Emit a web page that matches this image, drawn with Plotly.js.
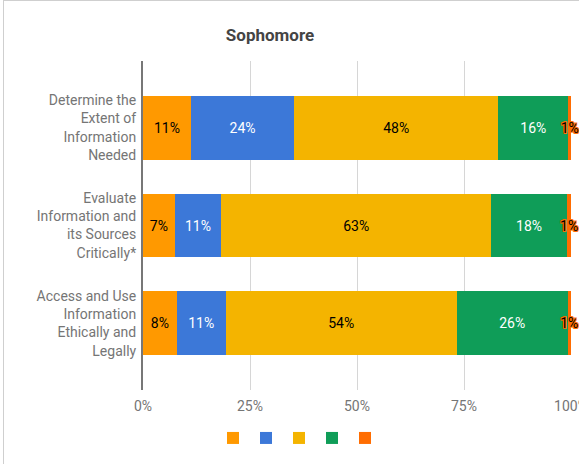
<!DOCTYPE html>
<html>
<head>
<meta charset="utf-8">
<script src="https://cdn.plot.ly/plotly-3.0.1.min.js"></script>
<style>
  html, body { margin: 0; padding: 0; background: #fff; }
  #wrap { position: relative; width: 579px; height: 464px; overflow: hidden; }
  #chart { position: absolute; left: 0; top: 0; width: 579px; height: 464px; }
  #frame { position: absolute; left: 3px; top: 0; width: 600px; height: 500px;
           border-left: 1px solid #cfcfcf; border-top: 1px solid #cfcfcf; pointer-events: none; }
</style>
</head>
<body>
<div id="wrap"><div id="chart"></div><div id="frame"></div></div>
<script>
const categories = [
  "Determine the<br>Extent of<br>Information<br>Needed",
  "Evaluate<br>Information and<br>its Sources<br>Critically*",
  "Access and Use<br>Information<br>Ethically and<br>Legally"
];
const seriesNames = [" ", " ", " ", " ", " "];
const level1 = [11.2, 7.4, 7.9];
const level2 = [24.1, 10.9, 11.4];
const level3 = [47.7, 63.0, 54.0];
const level4 = [16.4, 17.8, 25.9];
const level5 = [0.6, 0.9, 0.8];
const tickVals = [0, 25, 50, 75, 100];
const tickLabels = ["0%", "25%", "50%", "75%", "100%"];

const colors = ["#ff9900", "#3c78d8", "#f4b400", "#0f9d58", "#ff6d01"];
const textColors = ["#000000", "#ffffff", "#000000", "#ffffff", "#000000"];
const allSeries = [level1, level2, level3, level4, level5];
const legendIds = ["legend", "legend2", "legend3", "legend4", "legend5"];
const legendCenters = [233, 266, 299, 332, 365];

const outline = "1px 0 0 #ff6d01, -1px 0 0 #ff6d01, 0 1px 0 #ff6d01, 0 -1px 0 #ff6d01, 1px 1px 0 #ff6d01, -1px -1px 0 #ff6d01, 1px -1px 0 #ff6d01, -1px 1px 0 #ff6d01";

const traces = allSeries.map((vals, i) => ({
  type: "bar",
  orientation: "h",
  name: seriesNames[i],
  legend: legendIds[i],
  y: categories,
  x: vals,
  marker: { color: colors[i], line: { width: 0 } },
  texttemplate: "%{x:.0f}%",
  textposition: "inside",
  insidetextanchor: "middle",
  textangle: 0,
  constraintext: "none",
  cliponaxis: i === 4 ? false : true,
  textfont: Object.assign(
    { family: "Roboto, Arial, sans-serif", size: 14, color: textColors[i] },
    i === 4 ? { shadow: outline } : {}
  ),
  hoverinfo: "none"
}));

const layout = {
  width: 579,
  height: 464,
  margin: { l: 143, r: 8, t: 61, b: 74, pad: 0 },
  paper_bgcolor: "#ffffff",
  plot_bgcolor: "#ffffff",
  barmode: "stack",
  bargap: 0.347,
  font: { family: "Roboto, Arial, sans-serif", size: 14, color: "#757575" },
  title: {
    text: "<b>Sophomore</b>",
    font: { family: "Roboto, Arial, sans-serif", size: 17, color: "#444444" },
    x: 270 / 579, xanchor: "center", xref: "container",
    y: 1 - 35 / 464, yanchor: "middle", yref: "container"
  },
  xaxis: {
    range: [0, 100],
    tickvals: tickVals,
    ticktext: tickLabels,
    showgrid: true,
    gridcolor: "#d6d6d6",
    gridwidth: 1,
    zeroline: false,
    showline: false,
    ticks: "",
    ticklabelstandoff: 6,
    ticklabeloverflow: "allow",
    tickfont: { size: 14, color: "#757575" },
    fixedrange: true
  },
  yaxis: {
    type: "category",
    categoryorder: "array",
    categoryarray: categories,
    range: [2.679, -0.679],
    showgrid: false,
    zeroline: false,
    showline: true,
    linecolor: "#777777",
    linewidth: 2,
    ticks: "",
    ticklabelstandoff: 2,
    tickfont: { size: 14, color: "#757575" },
    fixedrange: true
  },
  showlegend: true
};

legendIds.forEach((id, i) => {
  layout[id] = {
    orientation: "h",
    x: (legendCenters[i] - 20) / 579, xanchor: "left", xref: "container",
    y: 1 - 438 / 464, yanchor: "middle", yref: "container",
    itemwidth: 30,
    font: { size: 13, color: "#222" },
    bgcolor: "rgba(0,0,0,0)",
    borderwidth: 0
  };
});

Plotly.newPlot("chart", traces, layout, { displayModeBar: false, staticPlot: true });
</script>
</body>
</html>
